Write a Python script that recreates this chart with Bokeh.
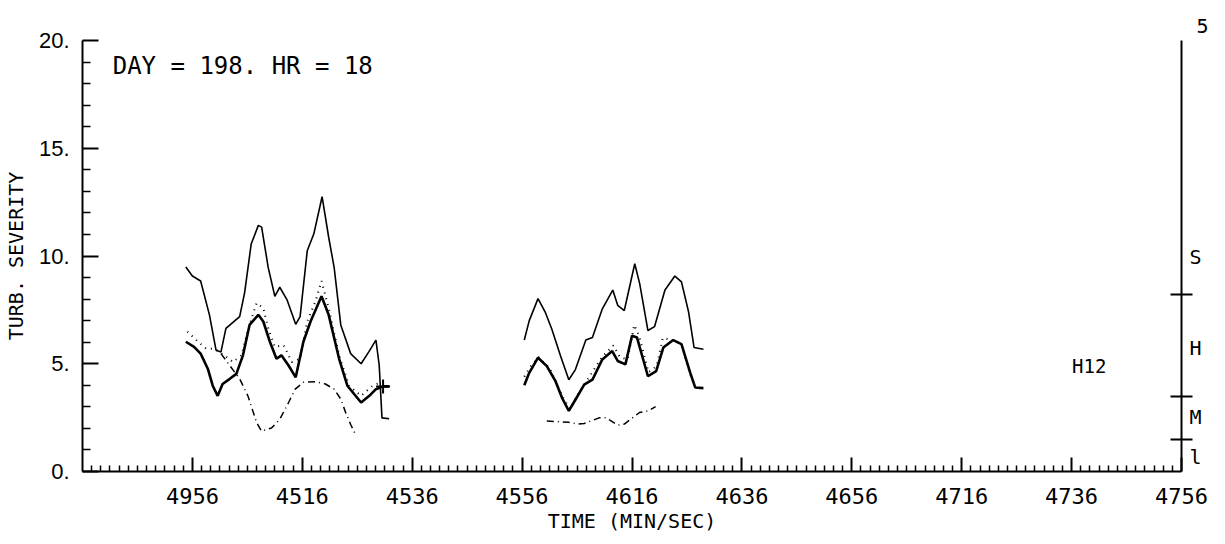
from bokeh.plotting import figure
from bokeh.models import Range1d, LinearAxis, FixedTicker, Label
from bokeh.embed import file_html
from bokeh.resources import INLINE

# ---- data (time in seconds after 44:36, value = turbulence severity) ----
x_ticks = [20, 40, 60, 80, 100, 120, 140, 160, 180, 200]
x_tick_labels = ["4956", "4516", "4536", "4556", "4616", "4636", "4656", "4716", "4736", "4756"]
y_ticks = [0, 5, 10, 15, 20]
y_tick_labels = ["0.", "5.", "10.", "15.", "20."]
cat_pos = [0.69, 2.54, 5.73, 9.95]
cat_labels = ["l", "M", "H", "S"]
cat_bounds = [1.5, 3.47, 8.23]
scale_top_label = "5"

upper1_t = [18.8, 20.0, 21.5, 23.1, 24.3, 25.2, 26.1, 28.6, 29.5, 30.7, 32.0, 32.6, 33.8, 35.0, 35.9, 37.2,
            38.8, 39.6, 40.9, 42.1, 43.6, 44.8, 45.8, 47.0, 48.8, 50.7, 52.1, 53.4, 54.0, 54.5, 55.8]
upper1_v = [9.49, 9.07, 8.84, 7.27, 5.63, 5.55, 6.64, 7.19, 8.29, 10.56, 11.42, 11.34, 9.46, 8.13, 8.55, 7.98,
            6.83, 7.19, 10.24, 11.03, 12.75, 10.87, 9.46, 6.8, 5.47, 5.0, 5.55, 6.1, 4.92, 2.49, 2.45]
upper2_t = [80.4, 81.3, 82.9, 84.2, 85.4, 87.0, 88.5, 89.7, 91.6, 92.8, 94.6, 96.5, 97.4, 98.6, 100.5, 101.4,
            102.9, 104.1, 106.0, 107.8, 109.0, 110.3, 111.3, 113.0]
upper2_v = [6.1, 7.0, 8.02, 7.4, 6.61, 5.36, 4.26, 4.73, 6.1, 6.22, 7.55, 8.42, 7.71, 7.47, 9.64, 8.72,
            6.54, 6.72, 8.42, 9.07, 8.8, 7.4, 5.75, 5.67]

lower1_t = [18.8, 20.3, 21.5, 22.8, 23.7, 24.6, 25.5, 26.8, 28.0, 29.2, 30.4, 32.0, 32.9, 34.1, 35.3, 36.2,
            37.5, 38.8, 40.2, 41.5, 43.5, 44.8, 46.7, 48.2, 50.7, 52.2, 53.4, 54.7, 55.8]
lower1_v = [6.02, 5.78, 5.47, 4.77, 3.98, 3.51, 4.06, 4.3, 4.53, 5.39, 6.8, 7.27, 6.96, 6.02, 5.23, 5.39,
            4.92, 4.37, 6.02, 6.96, 8.13, 7.27, 5.23, 3.98, 3.2, 3.51, 3.82, 3.95, 3.95]
lower2_t = [80.4, 81.3, 82.9, 84.5, 86.1, 87.3, 88.5, 89.7, 91.3, 92.8, 94.6, 96.4, 97.4, 98.8, 100.0, 100.9,
            102.9, 104.4, 105.7, 107.5, 109.0, 110.6, 111.5, 113.0]
lower2_v = [4.0, 4.58, 5.28, 4.89, 4.18, 3.4, 2.81, 3.33, 4.03, 4.26, 5.2, 5.59, 5.13, 4.97, 6.3, 6.22,
            4.42, 4.66, 5.75, 6.1, 5.91, 4.58, 3.9, 3.87]

dot1_t = [19.1, 20.9, 22.5, 24.0, 25.8, 27.4, 28.9, 30.4, 31.7, 32.9, 33.8, 35.0, 36.6, 38.1, 39.6, 40.9,
          42.4, 43.5, 44.8, 46.7, 48.5, 50.7, 52.8, 54.3]
dot1_v = [6.49, 6.05, 5.7, 5.7, 5.39, 5.08, 5.39, 6.8, 7.82, 7.58, 6.64, 5.78, 5.86, 5.08, 5.23, 6.96,
          7.9, 8.84, 7.58, 5.39, 3.98, 3.51, 3.98, 4.14]
dot2_t = [80.4, 81.6, 83.0, 85.0, 87.3, 88.7, 90.0, 92.0, 94.5, 96.6, 97.8, 99.2, 100.4, 101.3, 103.0, 104.5,
          105.6, 107.3, 109.0, 110.6, 111.5]
dot2_v = [4.4, 4.9, 5.3, 4.8, 3.5, 2.9, 3.5, 4.3, 5.3, 5.85, 5.3, 5.2, 6.8, 6.3, 4.6, 4.9,
          6.2, 6.1, 5.9, 4.5, 3.9]

dash1_t = [25.2, 28.6, 30.1, 31.7, 32.6, 34.4, 35.9, 37.5, 38.7, 40.2, 42.4, 44.2, 45.8, 47.0, 47.9, 48.8, 49.7]
dash1_v = [5.47, 4.3, 3.51, 2.26, 1.87, 2.02, 2.42, 3.2, 3.82, 4.14, 4.17, 4.06, 3.82, 3.36, 2.73, 2.18, 1.71]
dash2_t = [84.5, 87.0, 88.5, 90.1, 91.3, 92.5, 94.0, 95.3, 97.4, 98.6, 101.4, 102.9, 104.3]
dash2_v = [2.34, 2.31, 2.28, 2.2, 2.23, 2.34, 2.49, 2.49, 2.15, 2.2, 2.74, 2.81, 3.01]

FONT = "DejaVu Sans Mono"
NUMFONT = "Liberation Sans"

p = figure(frame_width=1099, frame_height=431, x_range=Range1d(0, 200), y_range=Range1d(0, 20),
           x_axis_type=None, y_axis_type=None, output_backend="svg", toolbar_location=None,
           min_border_left=82, min_border_top=40, min_border_bottom=62, min_border_right=36,
           title=scale_top_label)
p.outline_line_color = None
p.grid.visible = False
p.background_fill_color = "white"
p.title.align = "right"
p.title.offset = -27
p.title.standoff = 16
p.title.text_font = FONT
p.title.text_font_size = "20px"
p.title.text_font_style = "normal"
p.title.text_color = "black"

def style(ax):
    ax.axis_line_width = 2
    ax.axis_line_color = "black"
    ax.major_tick_line_width = 2
    ax.minor_tick_line_width = 1.5
    ax.major_tick_line_color = "black"
    ax.minor_tick_line_color = "black"
    ax.major_label_text_font = FONT
    ax.major_label_text_color = "black"
    ax.axis_label_text_font = FONT
    ax.axis_label_text_font_style = "normal"
    ax.axis_label_text_color = "black"

xminor = [i * 20 / 12 for i in range(1, 120) if i % 12 != 0]
xaxis = LinearAxis(ticker=FixedTicker(ticks=x_ticks, minor_ticks=xminor),
                   major_label_overrides=dict(zip(x_ticks, x_tick_labels)),
                   axis_label="TIME (MIN/SEC)")
style(xaxis)
xaxis.major_tick_in = 14
xaxis.major_tick_out = 0
xaxis.minor_tick_in = 6
xaxis.minor_tick_out = 0
xaxis.major_label_standoff = 16
xaxis.major_label_text_font_size = "22px"
xaxis.axis_label_text_font_size = "20px"
xaxis.axis_label_standoff = 2
p.add_layout(xaxis, "below")

yminor = [v for v in range(1, 20) if v % 5 != 0]
yaxis = LinearAxis(ticker=FixedTicker(ticks=y_ticks, minor_ticks=yminor),
                   major_label_overrides=dict(zip(y_ticks, y_tick_labels)),
                   axis_label="TURB. SEVERITY")
style(yaxis)
yaxis.major_label_text_font = NUMFONT
yaxis.major_tick_in = 16
yaxis.major_tick_out = 0
yaxis.minor_tick_in = 8
yaxis.minor_tick_out = 0
yaxis.major_label_standoff = 13
yaxis.major_label_text_font_size = "22px"
yaxis.axis_label_text_font_size = "20px"
yaxis.axis_label_standoff = 8
p.add_layout(yaxis, "left")

raxis = LinearAxis(ticker=FixedTicker(ticks=cat_pos, minor_ticks=cat_bounds),
                   major_label_overrides=dict(zip(cat_pos, cat_labels)))
style(raxis)
raxis.major_tick_in = 0
raxis.major_tick_out = 0
raxis.minor_tick_in = 11
raxis.minor_tick_out = 11
raxis.minor_tick_line_width = 2
raxis.major_label_standoff = -3
raxis.major_label_text_font_size = "20px"
p.add_layout(raxis, "right")

for t, v in [(upper1_t, upper1_v), (upper2_t, upper2_v)]:
    p.line(t, v, line_color="black", line_width=1.6)
for t, v in [(lower1_t, lower1_v), (lower2_t, lower2_v)]:
    p.line(t, v, line_color="black", line_width=2.6)
for t, v in [(dot1_t, dot1_v), (dot2_t, dot2_v)]:
    p.line(t, v, line_color="black", line_width=2, line_dash="1 5")
for t, v in [(dash1_t, dash1_v), (dash2_t, dash2_v)]:
    p.line(t, v, line_color="black", line_width=1.5, line_dash="7 4 1 4")

p.scatter([lower1_t[-2]], [lower1_v[-2]], marker="cross", size=14, line_color="black", line_width=2)

p.add_layout(Label(x=5.5, y=18.83, text="DAY = 198. HR = 18", text_font=FONT, text_font_size="24px",
                   text_baseline="middle", text_align="left", text_color="black"))
p.add_layout(Label(x=183.2, y=4.9, text="H12", text_font=FONT, text_font_size="19px",
                   text_baseline="middle", text_align="center", text_color="black"))

open("out.html", "w").write(file_html(p, INLINE))
